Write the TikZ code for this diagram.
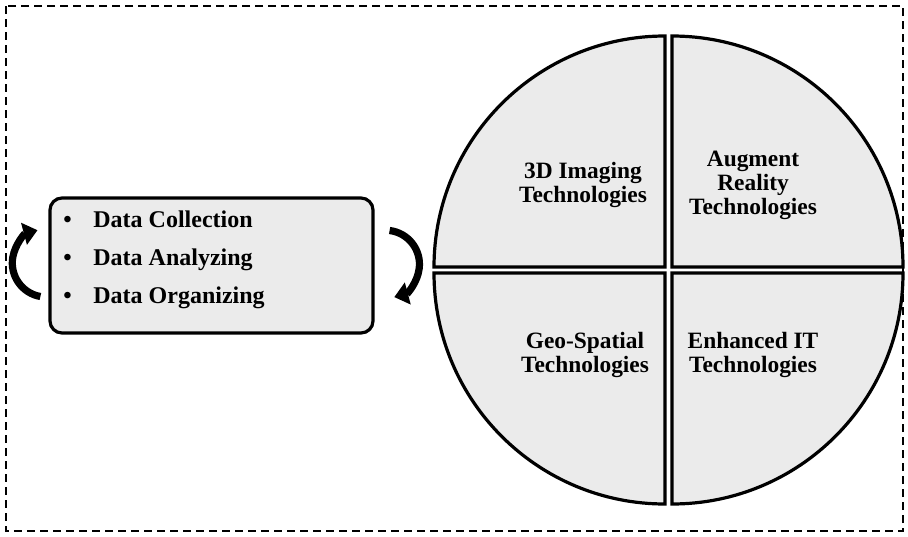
\documentclass[tikz,border=0pt]{standalone}
\usepackage{fontspec}
\setmainfont{Liberation Serif}
\usepackage{tikz}
\usetikzlibrary{arrows.meta,calc}
\definecolor{panelgray}{HTML}{EBEBEB}
\newcommand{\bulletitem}[1]{\makebox[15pt][l]{\textbullet}#1}

\begin{document}
\begin{tikzpicture}[x=0.5pt,y=-0.5pt,
		quad/.style={draw,line width=1.6pt,fill=panelgray,line join=miter},
		techlabel/.style={align=center,inner sep=0pt,font=\fontsize{11.7}{12}\selectfont\bfseries},
		listitem/.style={anchor=base west,inner sep=0pt,font=\fontsize{12}{12}\selectfont\bfseries},
		looparrow/.style={line width=3.6pt,-{Triangle[length=7pt,width=11pt]}}]
		\useasboundingbox (0,0) rectangle (908,536);
		% outer frame
		\draw[line width=1pt,dash pattern=on 4pt off 2.5pt] (6,6) rectangle (903,531);
		%\draw[help lines] (0,0) grid[step=50] (908,536);
		% list box
		\node[draw,line width=1.6pt,rounded corners=6pt,fill=panelgray,
			minimum width=161.5pt,minimum height=67.5pt] (box) at (211.5,265.5) {};
		\node[listitem] (collect) at (63,227) {\bulletitem{Data Collection}};
		\node[listitem] (analyze) at (63,265.5) {\bulletitem{Data Analyzing}};
		\node[listitem] (organize) at (63,303.5) {\bulletitem{Data Organizing}};
		% cycle arrows
		\draw[looparrow] (box.west) ++(-8,31) arc[start angle=100,end angle=255,radius=34];
		\draw[looparrow] (box.east) ++(15,-35) arc[start angle=277,end angle=435,radius=34];
		% quarters of the circle
		\draw[quad] (665,267) -- ++(-231,0) arc[start angle=180,end angle=270,radius=231] -- cycle;
		\draw[quad] (672,267) -- ++(0,-231) arc[start angle=270,end angle=360,radius=231] -- cycle;
		\draw[quad] (672,273) -- ++(231,0) arc[start angle=0,end angle=90,radius=231] -- cycle;
		\draw[quad] (665,273) -- ++(0,231) arc[start angle=90,end angle=180,radius=231] -- cycle;
		\node[techlabel] (imaging) at (583,185) {3D Imaging\\Technologies};
		\node[techlabel] (augment) at (753,185) {Augment\\Reality\\Technologies};
		\node[techlabel] (geo) at (585,355) {Geo-Spatial\\Technologies};
		\node[techlabel] (enhanced) at (753,355) {Enhanced IT\\Technologies};
	\end{tikzpicture}
\end{document}
